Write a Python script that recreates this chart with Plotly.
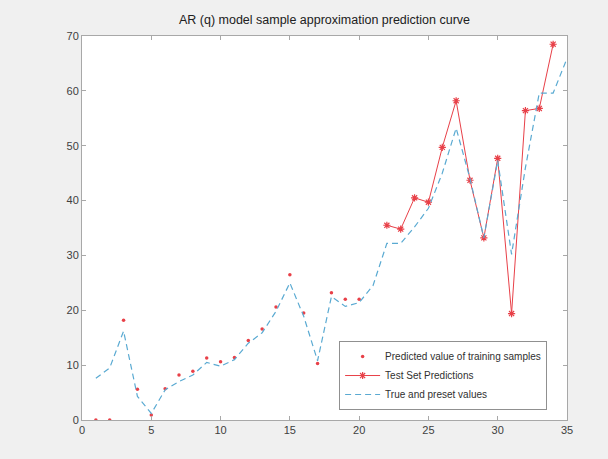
import plotly.graph_objects as go

# Training-sample predictions (x = 1..20)
train_x = list(range(1, 21))
train_pred = [0.0, 0.0, 18.2, 5.6, 0.9, 5.7, 8.2, 8.9, 11.3, 10.6,
              11.4, 14.5, 16.6, 20.6, 26.5, 19.5, 10.3, 23.2, 22.0, 22.0]

# Test-set predictions (x = 22..34)
test_x = list(range(22, 35))
test_pred = [35.5, 34.8, 40.5, 39.7, 49.7, 58.2, 43.7, 33.2, 47.7, 19.4,
             56.4, 56.8, 68.5]

# True values (x = 1..35)
true_x = list(range(1, 36))
true_vals = [7.6, 9.5, 16.2, 4.3, 1.2, 5.5, 7.0, 8.2, 10.5, 9.8,
             11.0, 14.0, 15.9, 19.8, 25.0, 18.9, 10.8, 22.5, 20.7, 21.4,
             24.5, 32.2, 32.2, 35.2, 38.6, 45.0, 53.2, 44.0, 33.2, 47.3,
             30.2, 46.0, 59.6, 59.6, 65.9]

x_ticks = [0, 5, 10, 15, 20, 25, 30, 35]
y_ticks = [0, 10, 20, 30, 40, 50, 60, 70]

title_text = "AR (q) model sample approximation prediction curve"

red = "rgb(232,64,72)"
blue = "rgb(90,170,210)"

fig = go.Figure()
fig.add_trace(go.Scatter(
    x=train_x, y=train_pred, mode="markers",
    name="Predicted value of training samples",
    marker=dict(color=red, size=3.5, symbol="circle"),
))
fig.add_trace(go.Scatter(
    x=test_x, y=test_pred, mode="lines+markers",
    name="Test Set Predictions",
    line=dict(color=red, width=1),
    marker=dict(color=red, size=6, symbol="asterisk-open",
                line=dict(color=red, width=1.2)),
))
fig.add_trace(go.Scatter(
    x=true_x, y=true_vals, mode="lines",
    name="True and preset values",
    line=dict(color=blue, width=1.2, dash="6px,4px"),
))

axis_common = dict(
    showgrid=False, zeroline=False, showline=True, linecolor="#a8a8a8",
    linewidth=1, mirror="ticks", ticks="inside", ticklen=4,
    tickcolor="#a8a8a8", tickfont=dict(family="Liberation Sans, Arial", size=11, color="#404040"),
)

fig.update_layout(
    width=608, height=459,
    margin=dict(l=82, r=41, t=36, b=39),
    paper_bgcolor="#f0f0f0", plot_bgcolor="white",
    title=dict(text=title_text, x=(82 + 567) / 2 / 608, xanchor="center",
               y=1 - 20 / 459, yanchor="middle",
               font=dict(family="Liberation Sans, Arial", size=12.5, color="#202020")),
    xaxis=dict(range=[0, 35], tickvals=x_ticks, **axis_common),
    yaxis=dict(range=[0, 70], tickvals=y_ticks, **axis_common),
    showlegend=True,
    legend=dict(x=0.959, y=0.026, xanchor="right", yanchor="bottom",
                bgcolor="white", bordercolor="#909090", borderwidth=1,
                font=dict(family="Liberation Sans, Arial", size=10, color="#303030"),
                tracegroupgap=0, itemwidth=35),
)

fig.write_html("out.html")
